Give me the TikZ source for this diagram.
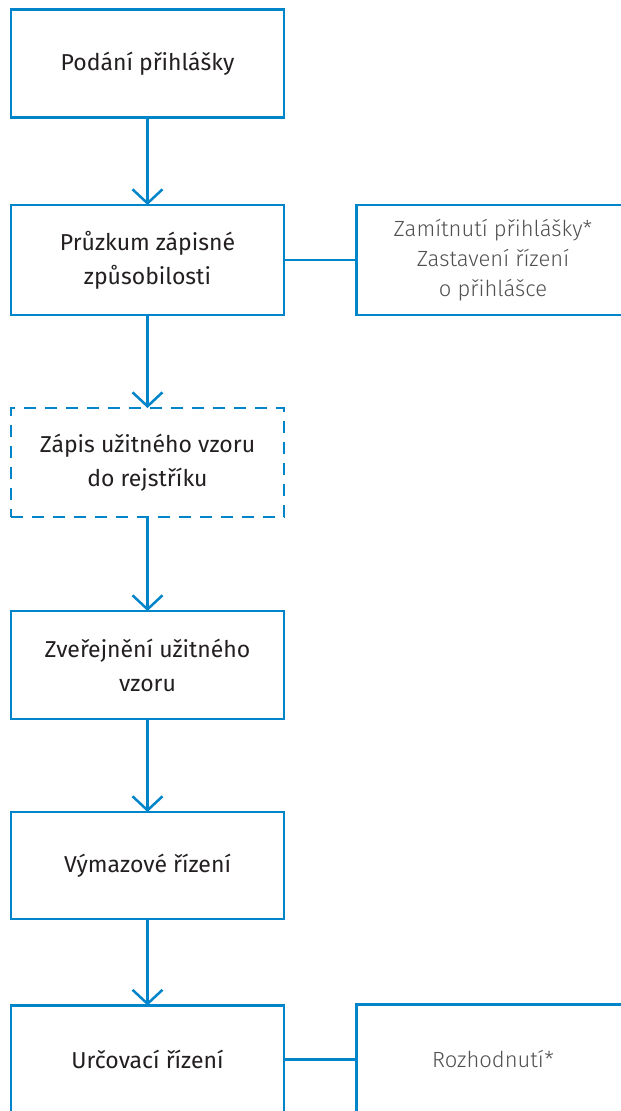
\documentclass[tikz,border=0pt]{standalone}
\usepackage{fontspec}
\setmainfont{Fira Sans}
\newfontfamily\lightfont{Fira Sans Light}
\usetikzlibrary{arrows.meta}
\definecolor{flowblue}{RGB}{0,133,202}
\definecolor{maintext}{RGB}{35,31,32}
\definecolor{sidetext}{RGB}{80,80,80}
\begin{document}
\begin{tikzpicture}[x=1pt,y=-1pt,
  box/.style={draw=flowblue, line width=2.5pt, minimum width=273pt, minimum height=108pt,
    inner sep=0pt, outer sep=0pt, align=center, text=maintext,
    font=\fontsize{23}{34}\selectfont},
  dashbox/.style={box, dash pattern=on 12pt off 9pt},
  sidebox/.style={box, text=sidetext, font=\lightfont\fontsize{22}{30}\selectfont},
  flow/.style={draw=flowblue, line width=2.5pt, -{Straight Barb[length=14pt,width=30pt]}},
  link/.style={draw=flowblue, line width=2.5pt}]
\clip (0,0) rectangle (621,1111);
\fill[white] (0,0) rectangle (621,1111);
\node[box] (b1) at (147.5,63.5) {Podání přihlášky};
\node[box, minimum height=110pt] (b2) at (147.5,260) {Průzkum zápisné\\způsobilosti};
\node[dashbox, minimum height=109pt] (b3) at (147.5,462.5) {Zápis užitného vzoru\\do rejstříku};
\node[box] (b4) at (147.5,665) {Zveřejnění užitného\\vzoru};
\node[box, minimum height=107pt] (b5) at (147.5,865.5) {Výmazové řízení};
\node[box] (b6) at (147.5,1059.5) {Určovací řízení};
\node[sidebox, minimum height=110pt] (r1) at (493,260) {Zamítnutí přihlášky*\\Zastavení řízení\\o přihlášce};
\node[sidebox, minimum height=110pt] (r2) at (493,1059.5) {Rozhodnutí*};
\draw[flow] (b1.south) -- (b2.north);
\draw[flow] (b2.south) -- (b3.north);
\draw[flow] (b3.south) -- (b4.north);
\draw[flow] (b4.south) -- (b5.north);
\draw[flow] (b5.south) -- (b6.north);
\draw[link] (b2.east) -- (r1.west);
\draw[link] (b6.east) -- (r2.west);
\end{tikzpicture}
\end{document}
